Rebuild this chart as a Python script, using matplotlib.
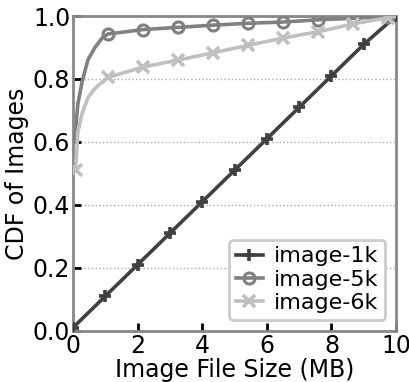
import matplotlib
matplotlib.use("Agg")
import matplotlib.pyplot as plt

# Image-size CDFs for three image sets
x_1k = [0, 1, 2, 3, 4, 5, 6, 7, 8, 9, 10]
cdf_1k = [0.01, 0.11, 0.21, 0.31, 0.41, 0.51, 0.61, 0.71, 0.81, 0.91, 1.0]

x_5k = [0.05, 0.15, 0.28, 0.46, 0.68, 0.9, 1.08, 2.17, 3.25, 4.33, 5.42, 6.5, 7.58, 8.67, 9.75, 10.0]
cdf_5k = [0.60, 0.72, 0.79, 0.86, 0.90, 0.93, 0.943, 0.957, 0.964, 0.971, 0.977, 0.981, 0.988, 0.993, 0.998, 1.0]

x_6k = [0.08, 0.15, 0.28, 0.46, 0.68, 0.9, 1.08, 2.17, 3.25, 4.33, 5.42, 6.5, 7.58, 8.67, 9.75, 10.0]
cdf_6k = [0.51, 0.63, 0.69, 0.74, 0.77, 0.79, 0.805, 0.838, 0.860, 0.883, 0.907, 0.930, 0.950, 0.975, 0.995, 1.0]

marks_1k = list(range(len(x_1k)))
marks_5k = [6, 7, 8, 9, 10, 11, 12, 13, 14]
marks_6k = [0, 6, 7, 8, 9, 10, 11, 12, 13, 14]

labels = ["image-1k", "image-5k", "image-6k"]
x_ticks = [0, 2, 4, 6, 8, 10]
y_ticks = [0.0, 0.2, 0.4, 0.6, 0.8, 1.0]

fig = plt.figure(figsize=(4.10, 3.82), dpi=100)
ax = fig.add_axes([0.178, 0.134, 0.788, 0.824])

ax.plot(x_1k, cdf_1k, color="#404040", lw=2.6, marker="+", ms=9, mew=2.6,
        markevery=marks_1k, label=labels[0], zorder=3)
ax.plot(x_5k, cdf_5k, color="#808080", lw=2.6, marker="o", ms=8, mew=2.2,
        mfc="none", markevery=marks_5k, label=labels[1], zorder=3)
ax.plot(x_6k, cdf_6k, color="#c0c0c0", lw=2.6, marker="x", ms=8, mew=2.6,
        markevery=marks_6k, label=labels[2], zorder=3)

ax.set_xlim(0, 10)
ax.set_ylim(0, 1.0)
ax.set_xticks(x_ticks)
ax.set_yticks(y_ticks)
ax.set_yticklabels([f"{v:.1f}" for v in y_ticks])
ax.tick_params(direction="in", length=6, width=2, labelsize=17, pad=2)
ax.yaxis.grid(True, linestyle=":", color="#aaaaaa", lw=1)
ax.set_axisbelow(True)
for s in ax.spines.values():
    s.set_color("#888888")
    s.set_linewidth(2)

ax.set_xlabel("Image File Size (MB)", fontsize=17, labelpad=0)
ax.set_ylabel("CDF of Images", fontsize=17, labelpad=3)

leg = ax.legend(loc="lower right", fontsize=16, handlelength=1.2,
                handletextpad=0.5, borderpad=0.3, labelspacing=0.15,
                borderaxespad=0.5, framealpha=1)
leg.get_frame().set_edgecolor("#cccccc")
leg.get_frame().set_linewidth(2)

fig.savefig("out.png", dpi=100)
